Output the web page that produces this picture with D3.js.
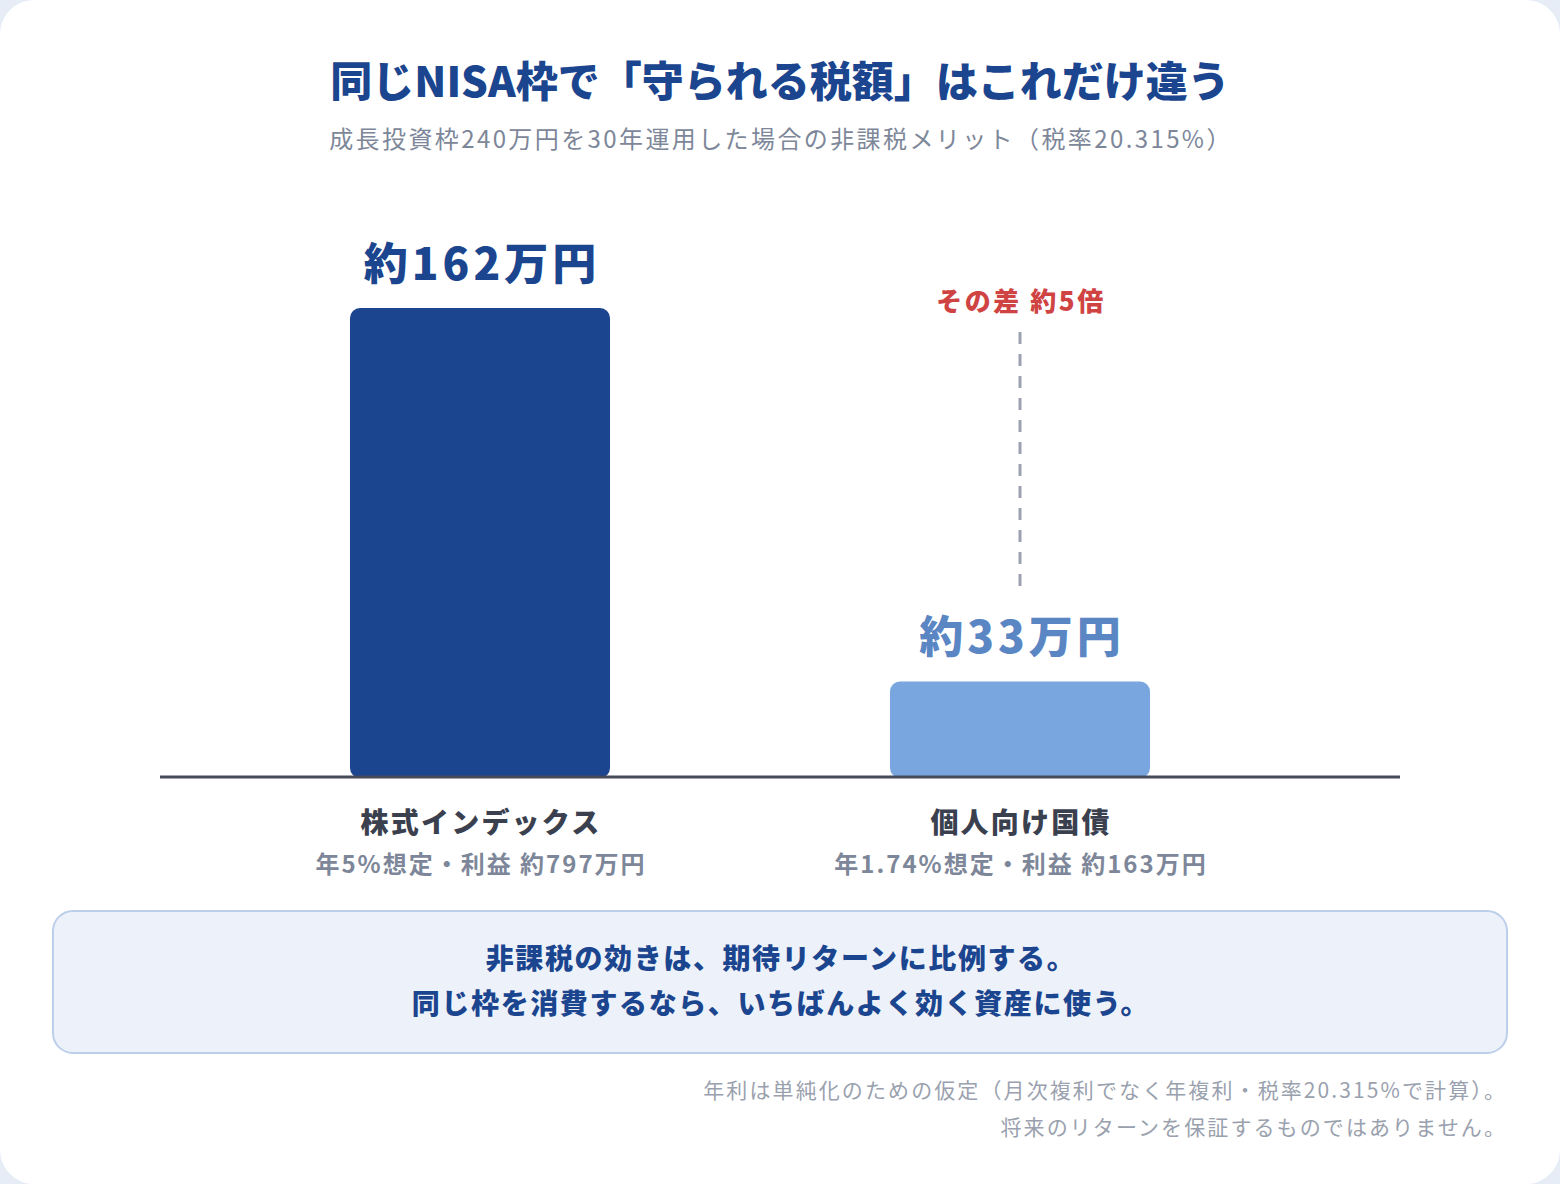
<!DOCTYPE html>
<html>
<head>
<meta charset="utf-8">
<script src="https://cdn.jsdelivr.net/npm/d3@7"></script>
<style>
  html, body { margin: 0; padding: 0; background: #e6edf7; }
  svg { display: block; }
  text { font-family: "Noto Sans CJK JP", sans-serif; }
</style>
</head>
<body>
<div id="chart"></div>
<script>
const categories = ['株式インデックス', '個人向け国債'];
const subLabels = ['年5%想定・利益 約797万円', '年1.74%想定・利益 約163万円'];
const taxSaved = [162, 33];
const valueLabels = ['約162万円', '約33万円'];
const barColors = ['#1b458e', '#79a6de'];
const labelColors = ['#1b458e', '#5b86c4'];
const diffLabel = 'その差 約5倍';
const title = '同じNISA枠で「守られる税額」はこれだけ違う';
const subtitle = '成長投資枠240万円を30年運用した場合の非課税メリット（税率20.315%）';
const calloutLines = [
  '非課税の効きは、期待リターンに比例する。',
  '同じ枠を消費するなら、いちばんよく効く資産に使う。',
];
const notes = [
  '年利は単純化のための仮定（月次複利でなく年複利・税率20.315%で計算）。',
  '将来のリターンを保証するものではありません。',
];

const width = 1560;
const height = 1184;
const barWidth = 260;

const svg = d3.select('#chart')
  .append('svg')
  .attr('width', width)
  .attr('height', height);

// card
svg.append('rect')
  .attr('x', 0).attr('y', 0)
  .attr('width', width).attr('height', height)
  .attr('rx', 34)
  .attr('fill', '#ffffff');

svg.append('text')
  .attr('x', width / 2).attr('y', 97)
  .attr('text-anchor', 'middle')
  .attr('font-size', 42).attr('font-weight', 900)
  .attr('fill', '#1b458e')
  .text(title);

svg.append('text')
  .attr('x', width / 2 + 1).attr('y', 148)
  .attr('text-anchor', 'middle')
  .attr('font-size', 24).attr('font-weight', 400)
  .attr('letter-spacing', 2.4)
  .attr('fill', '#7d8799')
  .text(subtitle);

const baseY = 777;
const x = d3.scalePoint()
  .domain(categories)
  .range([480, 1020]);

const y = d3.scaleLinear()
  .domain([0, d3.max(taxSaved)])
  .range([baseY, 308]);

const data = categories.map((c, i) => ({
  cat: c, value: taxSaved[i], label: valueLabels[i], sub: subLabels[i],
  color: barColors[i], labelColor: labelColors[i],
}));

svg.selectAll('rect.bar')
  .data(data)
  .join('rect')
  .attr('class', 'bar')
  .attr('x', (d) => x(d.cat) - barWidth / 2)
  .attr('y', (d) => y(d.value))
  .attr('width', barWidth)
  .attr('height', (d) => baseY + 1 - y(d.value))
  .attr('rx', 10)
  .attr('fill', (d) => d.color);

// baseline axis
const xAxis = d3.axisBottom(x).tickSize(0).tickFormat('');
svg.append('g')
  .attr('transform', `translate(0, ${baseY})`)
  .call(xAxis)
  .call((g) => g.select('.domain')
    .attr('d', 'M160,0H1400')
    .attr('stroke', '#464b5c')
    .attr('stroke-width', 3));

svg.selectAll('text.value')
  .data(data)
  .join('text')
  .attr('class', 'value')
  .attr('x', (d) => x(d.cat) + 2)
  .attr('y', (d) => y(d.value) - 28)
  .attr('text-anchor', 'middle')
  .attr('font-size', 44).attr('font-weight', 900)
  .attr('letter-spacing', 4)
  .attr('fill', (d) => d.labelColor)
  .text((d) => d.label);

svg.selectAll('text.cat')
  .data(data)
  .join('text')
  .attr('class', 'cat')
  .attr('x', (d) => x(d.cat) + 1)
  .attr('y', 833)
  .attr('text-anchor', 'middle')
  .attr('font-size', 28).attr('font-weight', 900)
  .attr('letter-spacing', 2.2)
  .attr('fill', '#3b404f')
  .text((d) => d.cat);

svg.selectAll('text.sub')
  .data(data)
  .join('text')
  .attr('class', 'sub')
  .attr('x', (d) => x(d.cat) + 1)
  .attr('y', 873)
  .attr('text-anchor', 'middle')
  .attr('font-size', 24).attr('font-weight', 700)
  .attr('letter-spacing', 2)
  .attr('fill', '#7d8799')
  .text((d) => d.sub);

// difference marker above the smaller bar
const cx2 = x(categories[1]);
svg.append('line')
  .attr('x1', cx2).attr('x2', cx2)
  .attr('y1', 332).attr('y2', 586)
  .attr('stroke', '#9ba1ae')
  .attr('stroke-width', 3)
  .attr('stroke-dasharray', '12 10');

svg.append('text')
  .attr('x', cx2 + 1).attr('y', 311)
  .attr('text-anchor', 'middle')
  .attr('font-size', 26).attr('font-weight', 900)
  .attr('letter-spacing', 2.5)
  .attr('fill', '#d04343')
  .text(diffLabel);

// callout box
svg.append('rect')
  .attr('x', 53).attr('y', 911)
  .attr('width', 1454).attr('height', 142)
  .attr('rx', 20)
  .attr('fill', '#edf2fa')
  .attr('stroke', '#bccfea')
  .attr('stroke-width', 2);

svg.selectAll('text.callout')
  .data(calloutLines)
  .join('text')
  .attr('class', 'callout')
  .attr('x', width / 2 + 1)
  .attr('y', (d, i) => 969 + i * 45)
  .attr('text-anchor', 'middle')
  .attr('font-size', 28).attr('font-weight', 900)
  .attr('letter-spacing', 1.6)
  .attr('fill', '#1b458e')
  .text((d) => d);

svg.selectAll('text.note')
  .data(notes)
  .join('text')
  .attr('class', 'note')
  .attr('x', 1507)
  .attr('y', (d, i) => 1098 + i * 37)
  .attr('text-anchor', 'end')
  .attr('font-size', 21).attr('font-weight', 400)
  .attr('letter-spacing', 2.1)
  .attr('fill', '#9aa1ae')
  .text((d) => d);
</script>
</body>
</html>
